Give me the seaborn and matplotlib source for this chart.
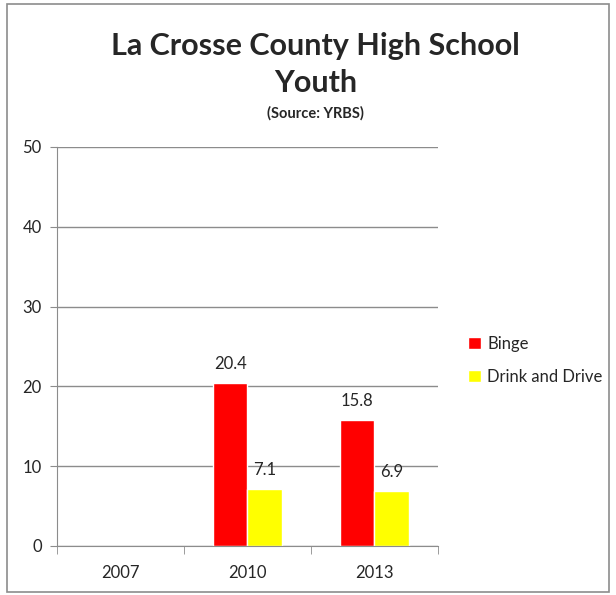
import numpy as np
import pandas as pd
import matplotlib
matplotlib.use("Agg")
import matplotlib.pyplot as plt
from matplotlib.patches import Rectangle
import seaborn as sns

years = ["2007", "2010", "2013"]
binge = [np.nan, 20.4, 15.8]
drink_drive = [np.nan, 7.1, 6.9]
series = ["Binge", "Drink and Drive"]
colors = ["#ff0000", "#ffff00"]

df = pd.DataFrame({
    "year": years * 2,
    "value": binge + drink_drive,
    "measure": [series[0]] * 3 + [series[1]] * 3,
})

sns.set_style("white")
plt.rcParams["font.family"] = ["Lato", "DejaVu Sans"]

fig = plt.figure(figsize=(6.16, 5.95), dpi=100)
ax = fig.add_axes([0.0925, 0.0824, 0.6185, 0.6706])

sns.barplot(data=df.dropna(), x="year", y="value", hue="measure",
            order=years, hue_order=series, palette=colors,
            width=0.54, saturation=1, ax=ax, legend=True)

for c in ax.containers:
    ax.bar_label(c, fmt="%.1f", padding=8, fontsize=12)

ax.set_ylim(0, 50)
ax.set_xlim(-0.5, 2.5)
ax.set_yticks([0, 10, 20, 30, 40, 50])
ax.yaxis.grid(True, color="#8c8c8c", linewidth=1)
ax.set_axisbelow(True)
ax.set_xlabel("")
ax.set_ylabel("")
for s in ["top", "right"]:
    ax.spines[s].set_visible(False)
for s in ["left", "bottom"]:
    ax.spines[s].set_color("#8c8c8c")
ax.tick_params(axis="y", length=5, color="#8c8c8c", labelsize=12, pad=6, left=True)
ax.tick_params(axis="x", which="major", length=0, labelsize=12, pad=14)
ax.set_xticks([-0.5, 0.5, 1.5, 2.5], minor=True)
ax.tick_params(axis="x", which="minor", length=6, color="#8c8c8c", bottom=True)

leg = ax.legend(loc="center left", bbox_to_anchor=(1.04, 0.465), frameon=False,
                fontsize=12, handlelength=0.75, handleheight=0.75,
                handletextpad=0.4, labelspacing=1.05)

fig.text(0.512, 0.922, "La Crosse County High School", ha="center", va="center",
         fontsize=22, fontweight="bold")
fig.text(0.512, 0.86, "Youth", ha="center", va="center",
         fontsize=22, fontweight="bold")
fig.text(0.512, 0.809, "(Source: YRBS)", ha="center", va="center",
         fontsize=10.5, fontweight="bold")

fig.patches.append(Rectangle((0.011, 0.005), 0.978, 0.989, transform=fig.transFigure,
                             fill=False, edgecolor="#8c8c8c", linewidth=1.2))

fig.savefig("out.png", dpi=100)
